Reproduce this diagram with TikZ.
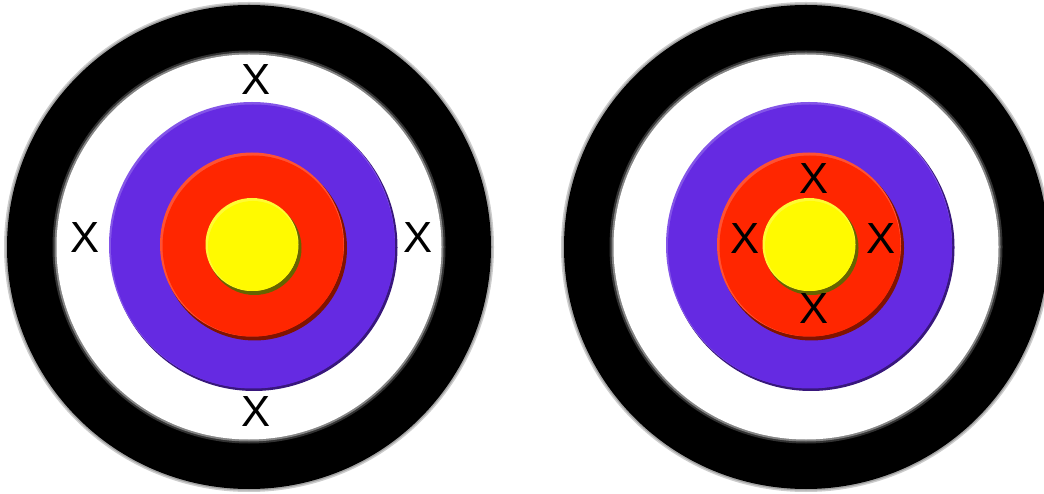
\documentclass[tikz,border=0pt]{standalone}
\usepackage{fontspec}
\setmainfont{Liberation Sans}
\usepackage{xcolor}
\usepackage{tikz}

\definecolor{ringpurple}{RGB}{101,42,226}
\definecolor{ringred}{RGB}{255,38,0}
\definecolor{ringyellow}{RGB}{255,250,0}

\begin{document}
\begin{tikzpicture}[
    x=0.025cm,
    y=0.025cm,
    blackring/.style={
        fill=black
    },
    whitering/.style={
        fill=white
    },
    halo/.style={
        fill=black,
        opacity=0.2
    },
    hitmark/.style={
        font=\fontsize{31}{31}\selectfont,
        inner sep=0pt,
        text depth=0pt
    }
]

\useasboundingbox (0,0) rectangle (1044,493);
\fill[white] (0,0) rectangle (1044,493);

% left target
\fill[halo] (249,246) circle (245);
\fill[halo] (249,246) circle (243.5);
\fill[blackring] (249,246) circle (242);
\fill[halo, fill=white] (249,246) circle (196.5);
\fill[halo, fill=white, opacity=0.4] (249,246) circle (194.5);
\fill[whitering] (249,246) circle (192.5);

\fill[ringpurple!55!black] (254,245.5) circle (143.5);
\fill[ringpurple!80!white] (252,248) circle (143);
\fill[ringpurple] (253,246.5) circle (142);

\fill[ringred!50!black] (254.5,245) circle (92.5);
\fill[ringred!80!white] (252,248.5) circle (92);
\fill[ringred] (253,247) circle (90.5);

\fill[ringyellow!40!black] (254.5,245) circle (47);
\fill[ringyellow!80!white] (252,248.5) circle (46.5);
\fill[ringyellow] (253,247) circle (45);

\node[hitmark] (ltop) at (256,413) {X};
\node[hitmark] (lleft) at (85,255) {X};
\node[hitmark] (lright) at (418,255) {X};
\node[hitmark] (lbottom) at (256,81) {X};

% right target
\fill[halo] (806,246) circle (245);
\fill[halo] (806,246) circle (243.5);
\fill[blackring] (806,246) circle (242);
\fill[halo, fill=white] (806,246) circle (196.5);
\fill[halo, fill=white, opacity=0.4] (806,246) circle (194.5);
\fill[whitering] (806,246) circle (192.5);

\fill[ringpurple!55!black] (811,245.5) circle (143.5);
\fill[ringpurple!80!white] (809,248) circle (143);
\fill[ringpurple] (810,246.5) circle (142);

\fill[ringred!50!black] (811.5,245) circle (92.5);
\fill[ringred!80!white] (809,248.5) circle (92);
\fill[ringred] (810,247) circle (90.5);

\fill[ringyellow!40!black] (811.5,245) circle (47);
\fill[ringyellow!80!white] (809,248.5) circle (46.5);
\fill[ringyellow] (810,247) circle (45);

\node[hitmark] (rtop) at (814,314) {X};
\node[hitmark] (rleft) at (745,254) {X};
\node[hitmark] (rright) at (881,254) {X};
\node[hitmark] (rbottom) at (814,184) {X};

\end{tikzpicture}
\end{document}
